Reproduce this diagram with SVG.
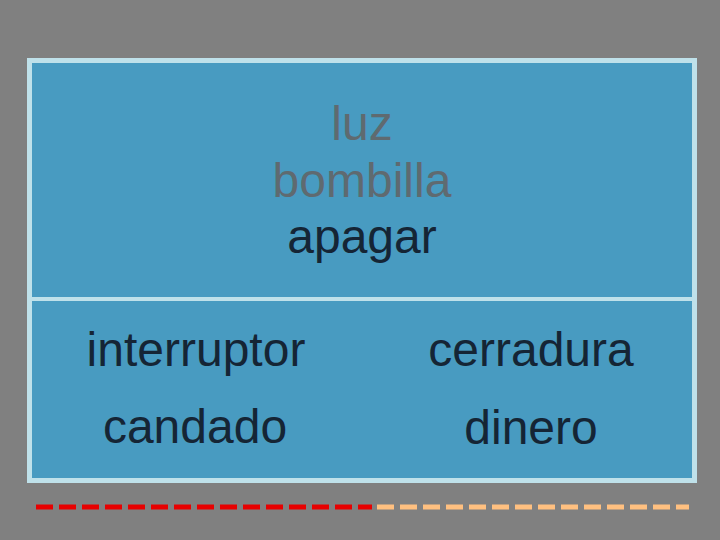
<svg xmlns="http://www.w3.org/2000/svg" width="720" height="540" viewBox="0 0 720 540">
<style>
text{font-family:"Liberation Sans",Arial,sans-serif;font-size:48px;text-anchor:middle}
.g{fill:#5f6a70}.d{fill:#152535}
</style>
<rect width="720" height="540" fill="#808080"/>
<g id="box">
<rect x="29.5" y="60.5" width="665" height="420" fill="#489bc1" stroke="#bfe1ea" stroke-width="5"/>
<line x1="32" y1="299" x2="692" y2="299" stroke="#bfe1ea" stroke-width="4"/>
</g>
<g id="title">
<text x="362" y="140" class="g">luz</text>
<text x="362" y="197" class="g">bombilla</text>
<text x="362" y="253" class="d">apagar</text>
</g>
<g id="opt1"><text x="196" y="366" class="d">interruptor</text></g>
<g id="opt2"><text x="531" y="366" class="d">cerradura</text></g>
<g id="opt3"><text x="195" y="443" class="d">candado</text></g>
<g id="opt4"><text x="531" y="444" class="d">dinero</text></g>
<g id="connectors">
<line x1="36" y1="507" x2="372" y2="507" stroke="#e80000" stroke-width="5" stroke-dasharray="17 6"/>
<line x1="377" y1="507" x2="689" y2="507" stroke="#ffc080" stroke-width="5" stroke-dasharray="17 6"/>
</g>
</svg>
